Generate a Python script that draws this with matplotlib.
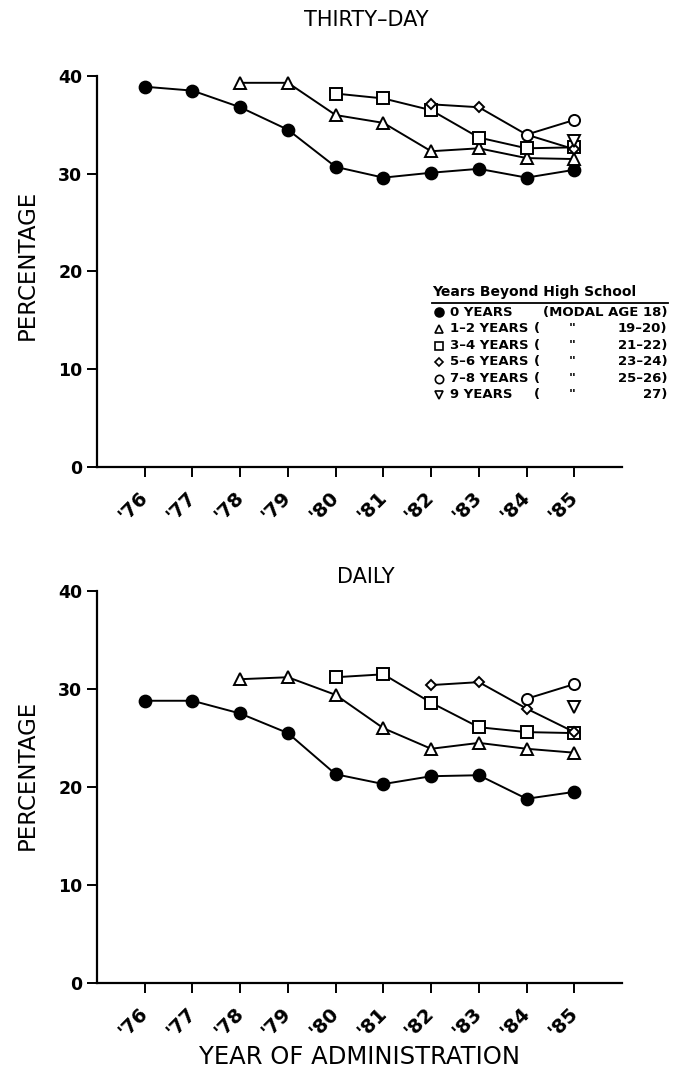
import numpy as np
import matplotlib
matplotlib.use('Agg')
import matplotlib.pyplot as plt

nan = np.nan

# years of administration
years = [76, 77, 78, 79, 80, 81, 82, 83, 84, 85]
year_labels = ["'76", "'77", "'78", "'79", "'80", "'81", "'82", "'83", "'84", "'85"]

# thirty-day prevalence, by years beyond high school
month_0 = [38.9, 38.5, 36.8, 34.5, 30.7, 29.6, 30.1, 30.5, 29.6, 30.4]
month_12 = [nan, nan, 39.3, 39.3, 36.0, 35.2, 32.3, 32.6, 31.6, 31.5]
month_34 = [nan, nan, nan, nan, 38.2, 37.7, 36.5, 33.7, 32.6, 32.7]
month_56 = [nan, nan, nan, nan, nan, nan, 37.1, 36.8, 34.0, 32.5]
month_78 = [nan, nan, nan, nan, nan, nan, nan, nan, 34.0, 35.5]
month_9 = [nan, nan, nan, nan, nan, nan, nan, nan, nan, 33.3]

# daily prevalence
daily_0 = [28.8, 28.8, 27.5, 25.5, 21.3, 20.3, 21.1, 21.2, 18.8, 19.5]
daily_12 = [nan, nan, 31.0, 31.2, 29.4, 26.0, 23.9, 24.5, 23.9, 23.5]
daily_34 = [nan, nan, nan, nan, 31.2, 31.5, 28.6, 26.1, 25.6, 25.5]
daily_56 = [nan, nan, nan, nan, nan, nan, 30.4, 30.7, 28.0, 25.6]
daily_78 = [nan, nan, nan, nan, nan, nan, nan, nan, 29.0, 30.5]
daily_9 = [nan, nan, nan, nan, nan, nan, nan, nan, nan, 28.2]

group_labels = ['0 YEARS', '1\u20132 YEARS', '3\u20134 YEARS', '5\u20136 YEARS', '7\u20138 YEARS', '9 YEARS']
age_labels = ['(MODAL AGE 18)', '19\u201320)', '21\u201322)', '23\u201324)', '25\u201326)', '27)']

# marker, fill, size for each group
styles = [('o', 'black', 8.5), ('^', 'white', 8), ('s', 'white', 8),
          ('D', 'white', 5.5), ('o', 'white', 8), ('v', 'white', 8)]

fig = plt.figure(figsize=(6.93, 10.73), dpi=100)
ax1 = fig.add_axes([0.140, 0.5648, 0.7576, 0.3644])
ax2 = fig.add_axes([0.140, 0.0839, 0.7576, 0.3653])


def draw_panel(ax, series):
    for vals, (m, fc, ms) in zip(series, styles):
        ax.plot(years, vals, color='black', lw=1.4, marker=m, markersize=ms,
                markerfacecolor=fc, markeredgecolor='black', markeredgewidth=1.4,
                clip_on=False, zorder=3)
    ax.set_xlim(75, 86)
    ax.set_ylim(0, 40)
    ax.set_yticks([0, 10, 20, 30, 40])
    ax.set_xticks(years)
    ax.set_xticklabels(year_labels, rotation=45, ha='right', va='center',
                       rotation_mode='anchor', fontsize=14, fontweight='bold')
    ax.tick_params(axis='y', labelsize=12.5, width=1.4, length=7, direction='out')
    ax.tick_params(axis='x', width=1.4, length=7, direction='out', pad=13)
    for lab in ax.get_yticklabels():
        lab.set_fontweight('bold')
    for s in ['top', 'right']:
        ax.spines[s].set_visible(False)
    for s in ['left', 'bottom']:
        ax.spines[s].set_linewidth(1.6)


draw_panel(ax1, [month_0, month_12, month_34, month_56, month_78, month_9])
draw_panel(ax2, [daily_0, daily_12, daily_34, daily_56, daily_78, daily_9])

# titles and axis labels
fig.text(0.528, 0.981, 'THIRTY\u2013DAY', ha='center', va='center', fontsize=15)
fig.text(0.528, 0.462, 'DAILY', ha='center', va='center', fontsize=15)
fig.text(0.040, 0.753, 'PERCENTAGE', ha='center', va='center', rotation=90, fontsize=16.5)
fig.text(0.040, 0.278, 'PERCENTAGE', ha='center', va='center', rotation=90, fontsize=16.5)
fig.text(0.519, 0.015, 'YEAR OF ADMINISTRATION', ha='center', va='center', fontsize=17.5)

# legend drawn by hand inside the top panel
tr = ax1.transAxes
ax1.text(0.638, 0.447, 'Years Beyond High School', transform=tr, fontsize=10,
         fontweight='bold', va='center', ha='left')
ax1.plot([0.638, 1.088], [0.419, 0.419], transform=tr, color='black', lw=1.3, clip_on=False)
row_y = [0.396, 0.353, 0.310, 0.269, 0.226, 0.185]
for i, (yy, (m, fc, ms)) in enumerate(zip(row_y, styles)):
    ax1.plot([0.652], [yy], transform=tr, marker=m, markersize=ms * 0.75, markerfacecolor=fc,
             markeredgecolor='black', markeredgewidth=1.2, clip_on=False, linestyle='none')
    ax1.text(0.672, yy, group_labels[i], transform=tr, fontsize=9.5, fontweight='bold',
             va='center', ha='left')
    if i > 0:
        ax1.text(0.832, yy, '(', transform=tr, fontsize=9.5, fontweight='bold',
                 va='center', ha='left')
        ax1.text(0.905, yy, '"', transform=tr, fontsize=9.5, fontweight='bold',
                 va='center', ha='center')
    ax1.text(1.086, yy, age_labels[i], transform=tr, fontsize=9.5, fontweight='bold',
             va='center', ha='right')

fig.savefig('out.png', dpi=100)
